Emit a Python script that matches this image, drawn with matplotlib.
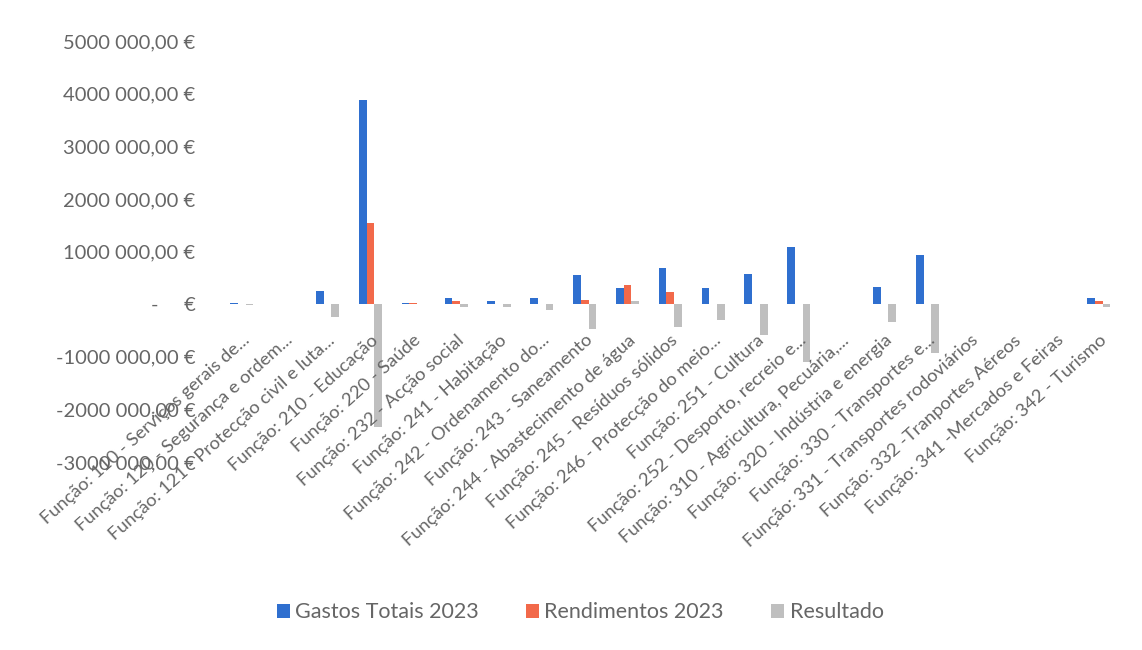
import matplotlib
matplotlib.use("Agg")
import matplotlib.pyplot as plt
import numpy as np

categories = [
    "Função: 110 - Serviços gerais de...",
    "Função: 120 - Segurança e ordem...",
    "Função: 121 - Protecção civil e luta...",
    "Função: 210 - Educação",
    "Função: 220 - Saúde",
    "Função: 232 - Acção social",
    "Função: 241 - Habitação",
    "Função: 242 - Ordenamento do...",
    "Função: 243 - Saneamento",
    "Função: 244 - Abastecimento de água",
    "Função: 245 - Resíduos sólidos",
    "Função: 246 - Protecção do meio...",
    "Função: 251 - Cultura",
    "Função: 252 - Desporto, recreio e...",
    "Função: 310 - Agricultura, Pecuária,...",
    "Função: 320 - Indústria e energia",
    "Função: 330 - Transportes e...",
    "Função: 331 - Transportes rodoviários",
    "Função: 332 -Tranportes Aéreos",
    "Função: 341 -Mercados e Feiras",
    "Função: 342 - Turismo",
]

gastos = [15000, 0, 250000, 3880000, 25000, 115000, 55000, 110000, 560000, 300000,
          680000, 300000, 580000, 1090000, 0, 330000, 930000, 0, 0, 0, 125000]
rendimentos = [0, 0, 0, 1550000, 25000, 70000, 0, 0, 80000, 360000,
               240000, 0, 0, 0, 0, 0, 0, 0, 0, 0, 70000]
resultado = [-15000, 0, -250000, -2330000, 0, -45000, -55000, -110000, -480000, 60000,
             -440000, -300000, -580000, -1090000, 0, -330000, -930000, 0, 0, 0, -55000]

series_names = ["Gastos Totais 2023", "Rendimentos 2023", "Resultado"]

ytick_values = [-3000000, -2000000, -1000000, 0, 1000000, 2000000, 3000000, 4000000, 5000000]
ytick_labels = ["-3000 000,00 €", "-2000 000,00 €", "-1000 000,00 €", "-     €",
                "1000 000,00 €", "2000 000,00 €", "3000 000,00 €", "4000 000,00 €",
                "5000 000,00 €"]

colors = ["#2f6fcf", "#f2694a", "#bfbfbf"]
text_color = "#666666"
font = "Lato"

fig = plt.figure(figsize=(11.42, 6.5), dpi=100)
ax = fig.add_axes([0.193, 0.289, 0.788, 0.648])

x = np.arange(len(categories))
w = 0.18
for i, (vals, name, c) in enumerate(zip([gastos, rendimentos, resultado], series_names, colors)):
    ax.bar(x + (i - 1) * w, vals, width=w, color=c, label=name)

ax.set_xlim(-0.5, len(categories) - 0.5)
ax.set_ylim(-3000000, 5000000)
ax.set_yticks(ytick_values)
ax.set_yticklabels(ytick_labels, fontsize=14.5, color=text_color, family=font)
ax.tick_params(axis="y", length=0, pad=18)

ax.spines["bottom"].set_position(("data", 0))
for s in ["top", "right", "left", "bottom"]:
    ax.spines[s].set_visible(False)

ax.set_xticks(x)
ax.set_xticklabels(categories, rotation=42, ha="right", rotation_mode="anchor",
                   fontsize=13.2, color=text_color, family=font)
ax.tick_params(axis="x", length=0, pad=20)

leg = fig.legend(loc="center", bbox_to_anchor=(0.508, 0.058), ncol=3, frameon=False,
                 handlelength=0.6, handleheight=0.6, handletextpad=0.25, columnspacing=2.2,
                 prop={"family": font, "size": 15.5})
for t in leg.get_texts():
    t.set_color(text_color)

fig.savefig("out.png", dpi=100, facecolor="white")
